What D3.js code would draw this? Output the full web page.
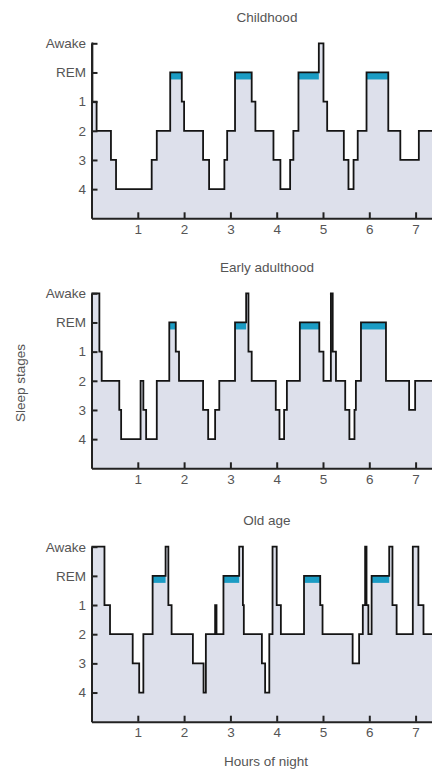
<!DOCTYPE html>
<html>
<head>
<meta charset="utf-8">
<script src="https://cdn.jsdelivr.net/npm/d3@7"></script>
<style>
  html, body { margin: 0; padding: 0; background: #fff; }
  text { font-family: "Liberation Sans", Arial, sans-serif; fill: #555; }
</style>
</head>
<body>
<div id="chart"></div>
<script>
var stageLabels = ['Awake', 'REM', '1', '2', '3', '4'];
var hourTicks = [1, 2, 3, 4, 5, 6, 7];
var panelTitles = ['Childhood', 'Early adulthood', 'Old age'];
var nightEnd = 7.4;

// start time (hours) of each stage segment, and its stage
var childhoodTimes = [0, 0.02, 0.11, 0.42, 0.53, 1.30, 1.41, 1.70, 1.95, 2.00, 2.41, 2.54, 2.87, 2.93, 3.10,
    3.46, 3.54, 3.93, 4.08, 4.29, 4.36, 4.47, 4.91, 5.01, 5.09, 5.45, 5.55, 5.66, 5.75, 5.94, 6.41, 6.67, 7.07];
var childhoodStages = ['Awake', '1', '2', '3', '4', '3', '2', 'REM', '1', '2', '3', '4', '3', '2', 'REM',
    '1', '2', '3', '4', '3', '2', 'REM', 'Awake', '1', '2', '3', '4', '3', '2', 'REM', '2', '3', '2'];

var adultTimes = [0, 0.17, 0.22, 0.60, 0.64, 1.06, 1.12, 1.18, 1.41, 1.68, 1.82, 1.89, 2.41, 2.52, 2.67, 2.76,
    3.10, 3.34, 3.39, 3.46, 3.98, 4.06, 4.16, 4.22, 4.50, 4.92, 5.01, 5.17, 5.21, 5.28, 5.48, 5.57, 5.68, 5.71,
    5.82, 6.36, 6.86, 6.99];
var adultStages = ['Awake', '1', '2', '3', '4', '2', '3', '4', '2', 'REM', '1', '2', '3', '4', '3', '2',
    'REM', 'Awake', '1', '2', '3', '4', '3', '2', 'REM', '1', '2', 'Awake', '1', '2', '3', '4', '3',
    '2', 'REM', '2', '3', '2'];

var oldTimes = [0, 0.28, 0.40, 0.89, 1.03, 1.12, 1.32, 1.60, 1.66, 1.73, 2.19, 2.42, 2.47, 2.67, 2.70,
    2.85, 3.19, 3.27, 3.29, 3.68, 3.75, 3.84, 3.91, 4.00, 4.09, 4.59, 4.94, 4.99, 5.64, 5.78, 5.86, 5.91,
    5.94, 5.98, 6.05, 6.43, 6.50, 6.59, 6.94, 7.06, 7.17];
var oldStages = ['Awake', '1', '2', '3', '4', '2', 'REM', 'Awake', '1', '2', '3', '4', '2', '1', '2',
    'REM', 'Awake', '1', '2', '3', '4', '2', 'Awake', '1', '2', 'REM', '1', '2', '3', '2', '1', 'Awake',
    '1', '2', 'REM', 'Awake', '1', '2', 'Awake', '1', '2'];

var panels = [
    {title: panelTitles[0], times: childhoodTimes, stages: childhoodStages},
    {title: panelTitles[1], times: adultTimes, stages: adultStages},
    {title: panelTitles[2], times: oldTimes, stages: oldStages}
];

var width = 432;
var height = 769;
var left = 91.5;
var panelTops = [43.3, 293.3, 546.7];
var panelHeight = 175;

var svg = d3.select('#chart')
    .append('svg')
    .attr('width', width)
    .attr('height', height);

var x = d3.scaleLinear()
    .domain([0, nightEnd])
    .range([left, left + nightEnd * 46.3]);

panels.forEach(function (p, i) {
    var top = panelTops[i];
    var y = d3.scaleLinear()
        .domain([0, stageLabels.length])
        .range([top, top + panelHeight]);

    var data = p.times.map(function (t, k) {
        return {t: t, s: stageLabels.indexOf(p.stages[k])};
    });
    data.push({t: nightEnd, s: data[data.length - 1].s});

    var g = svg.append('g');

    var area = d3.area()
        .curve(d3.curveStepAfter)
        .x(function (d) { return x(d.t); })
        .y0(y(stageLabels.length))
        .y1(function (d) { return y(d.s); });

    g.append('path')
        .attr('d', area(data))
        .attr('fill', '#dde0eb');

    // REM bands
    var rem = [];
    for (var k = 0; k < data.length - 1; k++) {
        if (data[k].s === 1) rem.push({t0: data[k].t, t1: data[k + 1].t});
    }
    g.selectAll('rect.rem')
        .data(rem)
        .enter().append('rect')
        .attr('class', 'rem')
        .attr('x', function (d) { return x(d.t0); })
        .attr('width', function (d) { return x(d.t1) - x(d.t0); })
        .attr('y', y(1))
        .attr('height', y(1.24) - y(1))
        .attr('fill', '#1b9cc4');

    var line = d3.line()
        .curve(d3.curveStepAfter)
        .x(function (d) { return x(d.t); })
        .y(function (d) { return y(d.s); });

    g.append('path')
        .attr('d', line(data))
        .attr('fill', 'none')
        .attr('stroke', '#141414')
        .attr('stroke-width', 1.8);

    var yAxis = d3.axisLeft(y)
        .tickValues([0, 1, 2, 3, 4, 5])
        .tickFormat(function (d) { return stageLabels[d]; })
        .tickSizeInner(-6)
        .tickSizeOuter(0)
        .tickPadding(5.5);

    var xAxis = d3.axisBottom(x)
        .tickValues(hourTicks)
        .tickSizeInner(-6)
        .tickSizeOuter(0)
        .tickPadding(6);

    var ya = g.append('g')
        .attr('transform', 'translate(' + left + ',0)')
        .call(yAxis);
    var xa = g.append('g')
        .attr('transform', 'translate(0,' + y(stageLabels.length) + ')')
        .call(xAxis);

    [ya, xa].forEach(function (a) {
        a.select('.domain').attr('stroke', '#222').attr('stroke-width', 2);
        a.selectAll('.tick line').attr('stroke', '#222').attr('stroke-width', 2);
        a.selectAll('.tick text')
            .attr('fill', '#555')
            .style('font-size', '13.5px')
            .style('font-family', '"Liberation Sans", Arial, sans-serif');
    });

    g.append('text')
        .attr('x', 267)
        .attr('y', top - 21.5)
        .attr('text-anchor', 'middle')
        .style('font-size', '13.5px')
        .text(p.title);
});

svg.append('text')
    .attr('x', 266)
    .attr('y', 766)
    .attr('text-anchor', 'middle')
    .style('font-size', '13.5px')
    .text('Hours of night');

svg.append('text')
    .attr('transform', 'translate(25,383) rotate(-90)')
    .attr('text-anchor', 'middle')
    .style('font-size', '13.5px')
    .text('Sleep stages');
</script>
</body>
</html>
